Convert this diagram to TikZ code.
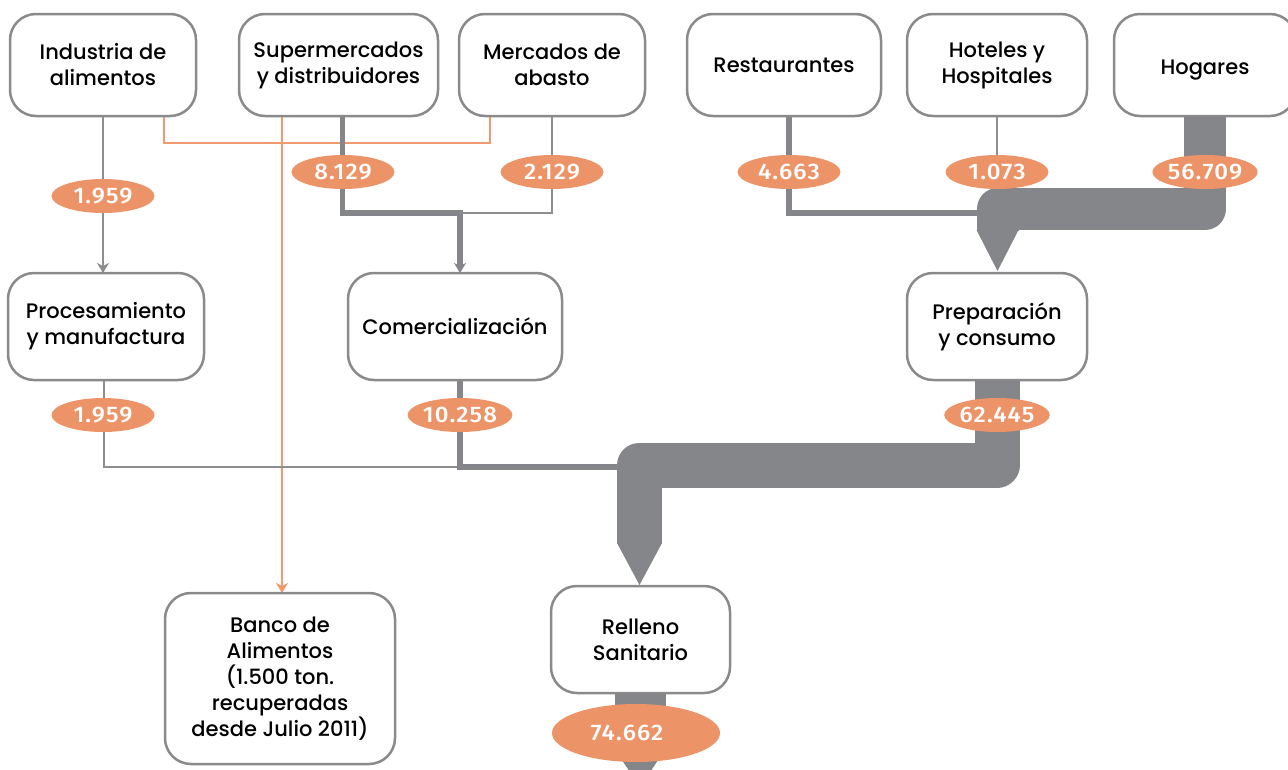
\documentclass[tikz,border=0pt]{standalone}
\usepackage{fontspec}
\IfFontExistsTF{Poppins Medium}{\setmainfont{Poppins Medium}}{\setmainfont{Poppins}[FakeBold=0.6]}
\IfFontExistsTF{Fira Sans Medium}{\newfontfamily\numfont{Fira Sans Medium}[FakeStretch=1.07,LetterSpace=5]}{\newfontfamily\numfont{Liberation Sans Bold}[LetterSpace=5]}
\usetikzlibrary{arrows.meta,shapes.geometric,calc}
\definecolor{flowgray}{HTML}{85868A}
\definecolor{boxgray}{HTML}{8A8A8A}
\definecolor{linegray}{HTML}{8E8E8E}
\definecolor{orng}{HTML}{EC9468}
\definecolor{orngline}{HTML}{F09A70}
\begin{document}
\begin{tikzpicture}[x=1pt,y=-1pt,
 box/.style={draw=boxgray,line width=2.5pt,fill=white,rounded corners=26pt,inner sep=0pt,align=center,font=\fontsize{21}{26}\selectfont},
 val/.style={ellipse,fill=orng,inner sep=0pt,minimum width=103pt,minimum height=34pt,text=white,font=\numfont\fontsize{22.5}{22.5}\selectfont},
 thinline/.style={draw=linegray,line width=2pt},
 midline/.style={draw=flowgray,line width=5.5pt},
 orangeline/.style={draw=orngline,line width=2pt},
 tipped/.style={-{Stealth[length=10pt,width=12pt,inset=3pt]}},
 band/.style={draw=flowgray,line join=round},
 head/.style={fill=flowgray}]
\useasboundingbox (0,0) rectangle (1288,769);

% coordinates for flow bends
\coordinate (c1) at (164,116);
\coordinate (c2) at (490,116);
\coordinate (sx) at (282,116);
\coordinate (s1) at (342.5,116);
\coordinate (m1) at (552,116);
\coordinate (j1) at (460,213);
\coordinate (r1) at (789,116);
\coordinate (jr) at (990,213);
\coordinate (ho1) at (997,116);
\coordinate (ho2) at (997,190);
\coordinate (p1) at (103.5,380);
\coordinate (k1) at (460,380);
\coordinate (jb) at (640,467);

% connectors (drawn first, under boxes)
\draw[thinline,tipped,draw=linegray] (103,116) -- (103,273);
\draw[orangeline] (c1) -- (164,143) -- (490,143) -- (c2);
\draw[orangeline,tipped,draw=orngline] (sx) -- (282,593);
\draw[midline,tipped] (s1) -- (342.5,213) -- (460,213) -- (460,273);
\draw[thinline] (m1) -- (552,213) -- (j1);
\draw[midline] (r1) -- (789,213) -- (jr);
\draw[thinline] (ho1) -- (ho2);
\draw[thinline] (p1) -- (103.5,467) -- (jb);
\draw[midline] (k1) -- (460,467) -- (jb);

% Hogares big flow
\draw[band,line width=42pt] (1205,110) -- (1205,209) -- (997.5,209) -- (997.5,231);
\fill[head] (976.5,230) -- (1018.5,230) -- (997.5,271) -- cycle;
% Preparacion big flow
\draw[band,line width=45pt] (997,375) -- (997,465) -- (639.5,465) -- (639.5,544);
\fill[head] (617,543) -- (662,543) -- (639.5,585) -- cycle;
% Relleno outflow
\draw[band,line width=51pt] (640,690) -- (640,750);
\fill[head] (614.5,749) -- (665.5,749) -- (640,787) -- cycle;

% nodes (boxes)
\node[box,minimum width=186pt,minimum height=102pt] (ind) at (103,65) {Industria de\\alimentos};
\node[box,minimum width=199pt,minimum height=102pt] (sup) at (338.5,65) {Supermercados\\y distribuidores};
\node[box,minimum width=186pt,minimum height=102pt] (mer) at (552,65) {Mercados de\\abasto};
\node[box,minimum width=194pt,minimum height=102pt] (res) at (784,65) {Restaurantes};
\node[box,minimum width=180pt,minimum height=102pt] (hot) at (997,65) {Hoteles y\\Hospitales};
\node[box,minimum width=182pt,minimum height=102pt] (hog) at (1205,65) {\smash{\raisebox{-9pt}{Hogares}}};
\node[box,minimum width=196pt,minimum height=107pt] (proc) at (106,326.5) {Procesamiento\\y manufactura};
\node[box,minimum width=214pt,minimum height=107pt] (com) at (455,326.5) {Comercialización};
\node[box,minimum width=180pt,minimum height=107pt] (prep) at (997,326.5) {Preparación\\y consumo};
\node[box,minimum width=230pt,minimum height=171pt] (ban) at (280,678.5) {Banco de\\Alimentos\\(1.500 ton.\\recuperadas\\desde Julio 2011)};
\node[box,minimum width=179pt,minimum height=107pt] (rel) at (640.5,639.5) {Relleno\\Sanitario};

% value ellipses
\node[val] (v1) at (103,196) {1.959};
\node[val] (v2) at (343,172) {8.129};
\node[val] (v3) at (552,172) {2.129};
\node[val] (v4) at (789,172) {4.663};
\node[val] (v5) at (997,172) {1.073};
\node[val] (v6) at (1205,172) {56.709};
\node[val] (v7) at (103,415) {1.959};
\node[val] (v8) at (460,415) {10.258};
\node[val] (v9) at (997,415) {62.445};
\node[val,minimum width=168pt,minimum height=58pt] (v10) at (636,733) {\hspace*{-18pt}74.662};
\end{tikzpicture}
\end{document}
